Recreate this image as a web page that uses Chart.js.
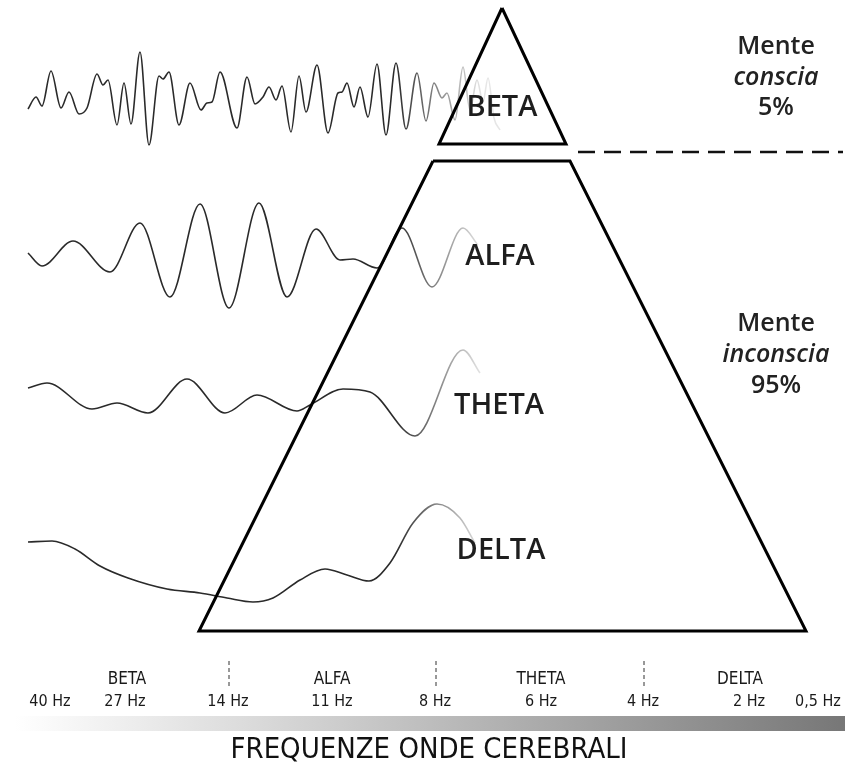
<!DOCTYPE html>
<html>
<head>
<meta charset="utf-8">
<script src="https://cdn.jsdelivr.net/npm/chart.js@4"></script>
<style>
html,body{margin:0;padding:0;background:#fff;}
#wrap{width:858px;height:765px;}
</style>
</head>
<body>
<div id="wrap"><canvas id="c" width="858" height="765"></canvas></div>
<script>
// ---- Data (x, y in picture units) ----
const betaWaveX = [28,36,42,51,61,69,79,87,97,103,108,117,124,131,140,149,159,163,169,179,190,201,207,212,220,237,247,255,263,269,276,282,291,299,306,317,328,338,342,347,354,360,368,377,386,396,406,417,426,434,442,447,455,463,470,477,483,488,494,500];
const betaWaveY = [109,97,106,71,108,92,114,108,74,85,80,125,83,124,52,145,76,79,72,125,83,110,103,102,72,128,77,104,97,87,100,86,132,76,112,65,133,93,92,83,107,87,117,64,135,63,129,73,121,83,98,93,120,67,110,80,102,78,118,130];

const alfaWaveX = [28,42,73,110,140,170,200,229,259,287,316,340,353,377,402,432,463,478];
const alfaWaveY = [253,266,241,272,223,297,204,308,203,297,229,260,259,268,228,287,228,245];

const thetaWaveX = [28,47,92,117,148,187,225,257,297,310,343,370,415,463,480];
const thetaWaveY = [388,383,409,403,413,379,413,395,411,405,389,392,436,350,373];

const deltaWaveX = [28,52,75,100,128,167,200,227,253,273,300,325,347,369,390,413,437,460,475];
const deltaWaveY = [542,541,549,566,578,589,593,598,602,598,580,569,575,581,563,523,504,518,543];

// pyramid outlines
const topTriX = [502,439,566,502];
const topTriY = [8,144,144,8];
const bottomTrapX = [433,570,806,199,433];
const bottomTrapY = [161,161,631,631,161];

// labels
const pyramidLabels = ['BETA','ALFA','THETA','DELTA'];
const consciousLines = ['Mente','conscia','5%'];
const unconsciousLines = ['Mente','inconscia','95%'];
const bandNames = ['BETA','ALFA','THETA','DELTA'];
const freqLabels = ['40 Hz','27 Hz','14 Hz','11 Hz','8 Hz','6 Hz','4 Hz','2 Hz','0,5 Hz'];
const bandSeparators = ['14 Hz','8 Hz','4 Hz'];
const axisTitle = 'FREQUENZE ONDE CEREBRALI';

// ---- layout (positions only) ----
const pyramidLabelPos = [[502,108],[500,257],[499,406],[501,551]];
const consciousPos = [776,[47,78,108]];
const unconsciousPos = [776,[324,355,386]];
const bandNamePos = [127,332,541,740];
const freqLabelPos = [50,125,228,332,435,541,643,749,818];
const separatorPos = [229,436,644];
const dividerLine = {x:[578,843], y:152};

function pts(xs, ys){ return xs.map((x,i)=>({x, y: ys[i]})); }

function fadeStroke(ctx){
  const chart = ctx.chart;
  const area = chart.chartArea;
  if(!area) return '#333';
  const sx = chart.scales.x;
  const g = chart.ctx.createLinearGradient(sx.getPixelForValue(395),0,sx.getPixelForValue(482),0);
  g.addColorStop(0,'#2a2a2a');
  g.addColorStop(0.45,'#808080');
  g.addColorStop(1,'#e6e6e6');
  return g;
}

function waveDataset(xs, ys){
  return {data: pts(xs, ys), showLine:true, borderColor: fadeStroke, borderWidth:1.6,
          pointRadius:0, cubicInterpolationMode:'monotone', order:2, fill:false};
}

const datasets = [
  {data: pts(topTriX, topTriY), showLine:true, borderColor:'#000', borderWidth:3, pointRadius:0, order:0, tension:0, borderJoinStyle:'miter'},
  {data: pts(bottomTrapX, bottomTrapY), showLine:true, borderColor:'#000', borderWidth:3, pointRadius:0, order:0, tension:0, borderJoinStyle:'miter'},
  {data: [{x:dividerLine.x[0],y:dividerLine.y},{x:dividerLine.x[1],y:dividerLine.y}], showLine:true, borderColor:'#111', borderWidth:2.5, borderDash:[17,9], pointRadius:0, order:0},
  waveDataset(betaWaveX, betaWaveY),
  waveDataset(alfaWaveX, alfaWaveY),
  waveDataset(thetaWaveX, thetaWaveY),
  waveDataset(deltaWaveX, deltaWaveY)
];
separatorPos.forEach(x=>{
  datasets.push({data:[{x, y:661},{x, y:688}], showLine:true, borderColor:'#333', borderWidth:1, borderDash:[4,3], pointRadius:0, order:0});
});

const textPlugin = {
  id:'texts',
  beforeDatasetsDraw(chart){
    const c = chart.ctx, sx = chart.scales.x, sy = chart.scales.y;
    // frequency gradient bar
    const x0 = sx.getPixelForValue(15), x1 = sx.getPixelForValue(845);
    const y0 = sy.getPixelForValue(716), y1 = sy.getPixelForValue(731);
    const g = c.createLinearGradient(x0,0,x1,0);
    g.addColorStop(0,'#ffffff');
    g.addColorStop(0.35,'#d2d2d2');
    g.addColorStop(1,'#777777');
    c.save();
    c.fillStyle = g;
    c.fillRect(x0, y0, x1-x0, y1-y0);
    c.restore();
  },
  afterDraw(chart){
    const c = chart.ctx, sx = chart.scales.x, sy = chart.scales.y;
    const X = v=>sx.getPixelForValue(v), Y = v=>sy.getPixelForValue(v);
    c.save();
    c.textAlign = 'center';
    c.textBaseline = 'middle';
    c.fillStyle = '#1e1e1e';
    c.font = '600 29px "Open Sans"';
    pyramidLabels.forEach((t,i)=>{
      c.fillText(t, X(pyramidLabelPos[i][0]), Y(pyramidLabelPos[i][1]));
    });
    c.fillStyle = '#222';
    const mindFonts = ['600 25px "Open Sans"','italic 600 25px "Open Sans"','600 25px "Open Sans"'];
    consciousLines.forEach((t,i)=>{
      c.font = mindFonts[i];
      c.fillText(t, X(consciousPos[0]), Y(consciousPos[1][i]));
    });
    unconsciousLines.forEach((t,i)=>{
      c.font = mindFonts[i];
      c.fillText(t, X(unconsciousPos[0]), Y(unconsciousPos[1][i]));
    });
    c.fillStyle = '#1a1a1a';
    c.font = '17px "Liberation Sans Narrow", "DejaVu Sans Condensed"';
    bandNames.forEach((t,i)=> c.fillText(t, X(bandNamePos[i]), Y(680)));
    c.font = '16px "Liberation Sans Narrow", "DejaVu Sans Condensed"';
    freqLabels.forEach((t,i)=> c.fillText(t, X(freqLabelPos[i]), Y(702)));
    c.font = '29px "Liberation Sans Narrow", "DejaVu Sans Condensed"';
    c.fillStyle = '#111';
    c.fillText(axisTitle, X(429), Y(750), 432);
    c.restore();
  }
};

new Chart(document.getElementById('c'), {
  type:'scatter',
  data:{datasets},
  options:{
    responsive:false,
    animation:false,
    events:[],
    layout:{padding:0},
    plugins:{legend:{display:false}, tooltip:{enabled:false}},
    scales:{
      x:{type:'linear', min:0, max:858, display:false},
      y:{type:'linear', min:0, max:765, reverse:true, display:false}
    }
  },
  plugins:[textPlugin]
});
</script>
</body>
</html>
